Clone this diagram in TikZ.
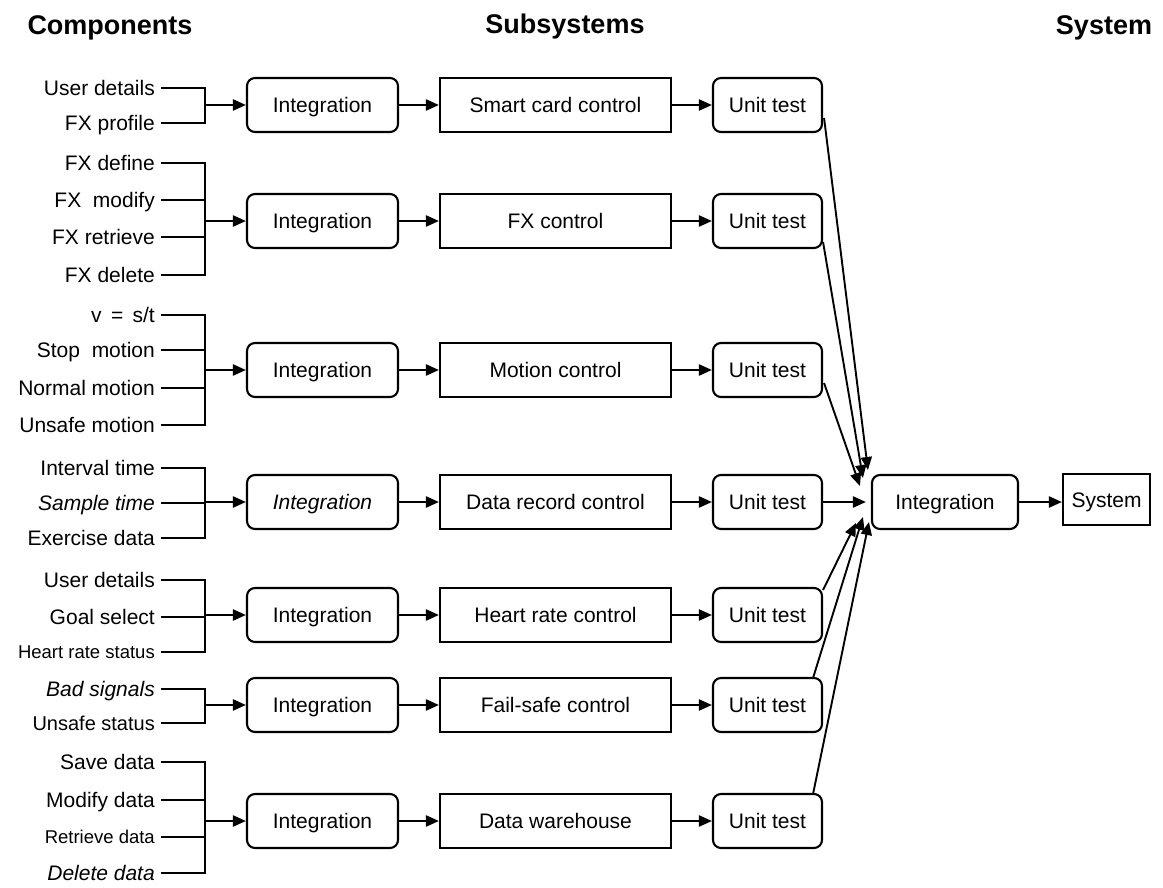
\documentclass[tikz,border=0pt]{standalone}
\usepackage{fontspec}
\setmainfont{Liberation Sans}
\usetikzlibrary{arrows.meta,calc}
\begin{document}
\begin{tikzpicture}[x=1pt,y=-1pt,
  wire/.style={line width=2.2pt},
  arr/.style={line width=2.2pt,-{Triangle[length=13pt,width=11pt]}},
  thinarr/.style={arr,line width=1.9pt},
  lab/.style={anchor=east,inner xsep=6pt,inner ysep=0pt,
    font=\fontsize{21}{24}\selectfont,text height=15pt,text depth=0pt},
  smalllab/.style={lab,font=\fontsize{18.5}{22}\selectfont,text height=13pt},
  midlab/.style={lab,font=\fontsize{20}{23}\selectfont},
  boxtext/.style={draw,line width=2.1pt,inner sep=0pt,minimum height=54pt,
    font=\fontsize{21}{24}\selectfont,text height=15pt,text depth=0pt},
  intbox/.style={boxtext,rounded corners=8pt,minimum width=151pt},
  subbox/.style={boxtext,minimum width=231pt},
  unitbox/.style={boxtext,rounded corners=8pt,minimum width=109pt},
  title/.style={font=\fontsize{27}{30}\selectfont\bfseries,text height=19pt,text depth=0pt,inner sep=0pt}
]
\path[use as bounding box] (0,0) rectangle (1163,888);

% column headings
\node[title] (tcomp) at (110,25) {Components};
\node[title] (tsub) at (565,24) {Subsystems};
\node[title] (tsys) at (1104,25) {System};

% ---------- row 1 : smart card ----------
\node[lab] (c11) at (161,88) {User details};
\node[lab] (c12) at (161,123) {FX profile};
\coordinate (j1) at (205,105);
\node[intbox] (i1) at (322.5,105) {Integration};
\node[subbox] (s1) at (555.5,105) {Smart card control};
\node[unitbox] (u1) at (767.5,105) {Unit test};
\draw[wire] (c11.east) -- (c11.east -| j1) -- (c12.east -| j1) -- (c12.east);

% ---------- row 2 : FX ----------
\node[lab] (c21) at (161,163) {FX define};
\node[lab] (c22) at (161,200) {FX\ \ modify};
\node[lab] (c23) at (161,237) {FX retrieve};
\node[lab] (c24) at (161,275) {FX delete};
\coordinate (j2) at (205,221);
\node[intbox] (i2) at (322.5,221) {Integration};
\node[subbox] (s2) at (555.5,221) {FX control};
\node[unitbox] (u2) at (767.5,221) {Unit test};
\draw[wire] (c21.east) -- (c21.east -| j2) -- (c24.east -| j2) -- (c24.east);
\draw[wire] (c22.east) -- (c22.east -| j2);
\draw[wire] (c23.east) -- (c23.east -| j2);

% ---------- row 3 : motion ----------
\node[lab] (c31) at (161,315) {v \,=\, s/t};
\node[lab] (c32) at (161,350) {Stop\ \ motion};
\node[lab] (c33) at (161,388) {Normal motion};
\node[lab] (c34) at (161,425) {Unsafe motion};
\coordinate (j3) at (205,370);
\node[intbox] (i3) at (322.5,370) {Integration};
\node[subbox] (s3) at (555.5,370) {Motion control};
\node[unitbox] (u3) at (767.5,370) {Unit test};
\draw[wire] (c31.east) -- (c31.east -| j3) -- (c34.east -| j3) -- (c34.east);
\draw[wire] (c32.east) -- (c32.east -| j3);
\draw[wire] (c33.east) -- (c33.east -| j3);

% ---------- row 4 : data record ----------
\node[lab] (c41) at (161,468) {Interval time};
\node[lab] (c42) at (161,503) {\itshape Sample time};
\node[lab] (c43) at (161,538) {Exercise data};
\coordinate (j4) at (205,502);
\node[intbox] (i4) at (322.5,502) {\itshape Integration};
\node[subbox] (s4) at (555.5,502) {Data record control};
\node[unitbox] (u4) at (767.5,502) {Unit test};
\draw[wire] (c41.east) -- (c41.east -| j4) -- (c43.east -| j4) -- (c43.east);
\draw[wire] (c42.east) -- (c42.east -| j4);

% ---------- row 5 : heart rate ----------
\node[lab] (c51) at (161,580) {User details};
\node[lab] (c52) at (161,617) {Goal select};
\node[smalllab] (c53) at (161,652) {Heart rate status};
\coordinate (j5) at (205,615);
\node[intbox] (i5) at (322.5,615) {Integration};
\node[subbox] (s5) at (555.5,615) {Heart rate control};
\node[unitbox] (u5) at (767.5,615) {Unit test};
\draw[wire] (c51.east) -- (c51.east -| j5) -- (c53.east -| j5) -- (c53.east);
\draw[wire] (c52.east) -- (c52.east -| j5);

% ---------- row 6 : fail-safe ----------
\node[lab] (c61) at (161,689) {\itshape Bad signals};
\node[midlab] (c62) at (161,723) {Unsafe status};
\coordinate (j6) at (205,705);
\node[intbox] (i6) at (322.5,705) {Integration};
\node[subbox] (s6) at (555.5,705) {Fail-safe control};
\node[unitbox] (u6) at (767.5,705) {Unit test};
\draw[wire] (c61.east) -- (c61.east -| j6) -- (c62.east -| j6) -- (c62.east);

% ---------- row 7 : data warehouse ----------
\node[lab] (c71) at (161,762) {Save data};
\node[lab] (c72) at (161,800) {Modify data};
\node[smalllab] (c73) at (161,837) {Retrieve data};
\node[lab] (c74) at (161,873) {\itshape Delete data};
\coordinate (j7) at (205,821);
\node[intbox] (i7) at (322.5,821) {Integration};
\node[subbox] (s7) at (555.5,821) {Data warehouse};
\node[unitbox] (u7) at (767.5,821) {Unit test};
\draw[wire] (c71.east) -- (c71.east -| j7) -- (c74.east -| j7) -- (c74.east);
\draw[wire] (c72.east) -- (c72.east -| j7);
\draw[wire] (c73.east) -- (c73.east -| j7);

% row chains: bracket -> integration -> subsystem -> unit test
\foreach \r in {1,...,7}{
  \draw[arr] (j\r) -- (i\r.west);
  \draw[arr] (i\r.east) -- (s\r.west);
  \draw[arr] (s\r.east) -- (u\r.west);
}

% system integration
\node[intbox,minimum width=146pt] (fin) at (945,502) {Integration};
\node[boxtext,minimum width=87pt,minimum height=51pt] (sys) at (1106.5,499.5) {System};
\draw[arr] (fin.east) -- (fin.east -| sys.west);

% unit tests converge on the system integration
\draw[thinarr] ($(u1.east)+(1,13)$) -- ($(fin.west)+(-3,-32)$);
\draw[thinarr] ($(u2.east)+(0,21)$) -- ($(fin.west)+(-8,-24)$);
\draw[thinarr] ($(u3.east)+(1,13)$) -- ($(fin.west)+(-11,-16)$);
\draw[arr] (u4.east) -- ($(fin.west)+(-5,0)$);
\draw[thinarr] ($(u5.east)+(0,-25)$) -- ($(fin.west)+(-15,21)$);
\draw[thinarr] ($(u6.north east)+(-10,1)$) -- ($(fin.west)+(-8,15)$);
\draw[thinarr] ($(u7.north east)+(-10,1)$) -- ($(fin.west)+(-2,20)$);
\end{tikzpicture}
\end{document}
